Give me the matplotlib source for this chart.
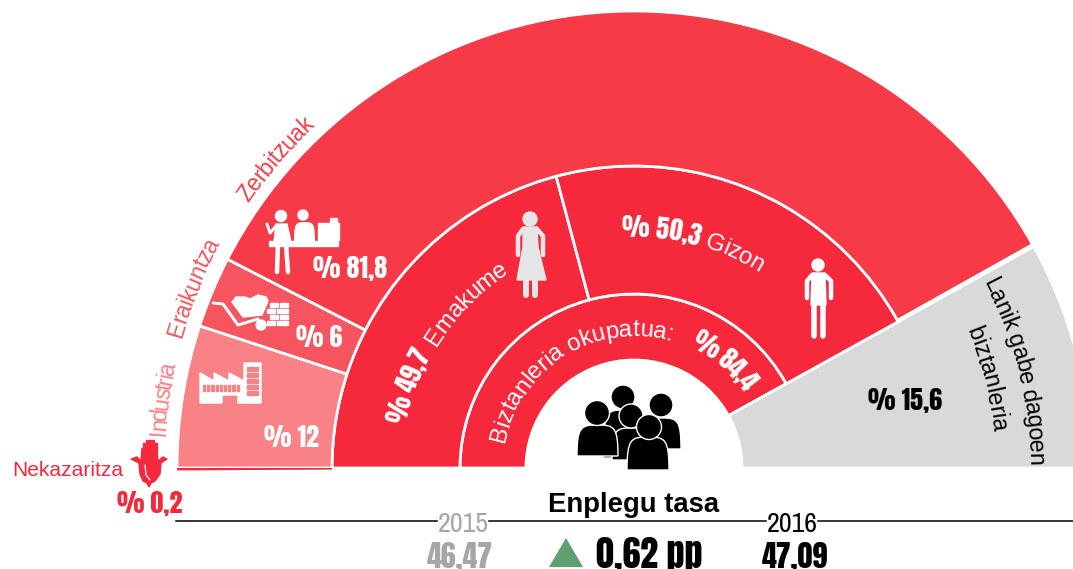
import numpy as np
import matplotlib
matplotlib.use('Agg')
import matplotlib.pyplot as plt
from matplotlib.patches import Wedge, Circle, Polygon, Rectangle, PathPatch
from matplotlib.path import Path
from matplotlib.font_manager import FontProperties, findfont, get_font
from matplotlib.ft2font import LoadFlags

# shares of the half circle
status_labels = ['Biztanleria okupatua', 'Lanik gabe dagoen biztanleria']
status_shares = [83.9, 16.1]
sex_labels = ['Emakume', 'Gizon']
sex_shares = [49.7, 50.3]
sector_labels = ['Nekazaritza', 'Industria', 'Eraikuntza', 'Zerbitzuak']
sector_shares = [0.2, 12, 6, 81.8]
sector_texts = ['% 0,2', '% 12', '% 6', '% 81,8']
years = ['2015', '2016']
rates = ['46,47', '47,09']
change = '0,62 pp'

RED = '#f5283c'
sector_colors = [RED, '#f98287', '#f6545e', '#f63a48']
GREY = '#d9d9d9'
CX, CY = 634, 468
R0, R1, R2, R3 = 108, 174, 302, 457
HEAVY = ['Anton', 'Liberation Sans']
NARROW = ['Archivo Narrow', 'Liberation Sans']
SANS = ['Liberation Sans']

fig = plt.figure(figsize=(10.73, 5.69), dpi=100)
ax = fig.add_axes([0, 0, 1, 1])
ax.set_xlim(0, 1073)
ax.set_ylim(569, 0)
ax.axis('off')


def ring(r_in, r_out, a_start, a_end, color, lw=2.0, z=1):
    # y axis points down, so the angles change sign
    ax.add_patch(Wedge((CX, CY), r_out, -a_start, -a_end, width=r_out - r_in,
                       facecolor=color, edgecolor='white' if lw else color, linewidth=lw, zorder=z))


def curved(s, r, a0, a1, px, color, family=SANS):
    # one rotated glyph at a time along the arc, a0 to a1 in degrees
    prop = FontProperties(family=family, size=px)
    font = get_font(findfont(prop))
    font.set_size(px, 72)
    adv = np.array([font.load_char(ord(c), flags=LoadFlags.NO_HINTING).linearHoriAdvance / 65536 for c in s])
    edges = np.concatenate([[0], np.cumsum(adv)])
    mids = (edges[:-1] + edges[1:]) / 2 / edges[-1]
    for c, m in zip(s, mids):
        if c == ' ':
            continue
        a = a0 + (a1 - a0) * m
        ax.text(CX + r * np.cos(np.radians(a)), CY - r * np.sin(np.radians(a)), c, color=color,
                fontsize=px * 0.72, family=family, rotation=a - 90,
                rotation_mode='anchor', ha='center', va='baseline', zorder=6)


def label(x, y, s, px, color='black', family=HEAVY, bold=False, ha='center'):
    ax.text(x, y, s, fontsize=px * 0.72, color=color, fontweight='bold' if bold else 'normal',
            family=family, ha=ha, va='baseline', zorder=6)


def stroke(xs, ys, w, color):
    ax.plot(xs, ys, color=color, lw=w * 0.72, solid_capstyle='round', solid_joinstyle='round', zorder=5)


def dome(x0, x1, top, bot, color='black', edge='white'):
    xm = (x0 + x1) / 2
    verts = [(x0, bot), (x0, top + (bot - top) * 0.05), (x0 + (xm - x0) * 0.2, top), (xm, top),
             (x1 - (x1 - xm) * 0.2, top), (x1, top + (bot - top) * 0.05), (x1, bot), (x0, bot)]
    codes = [Path.MOVETO] + [Path.CURVE4] * 6 + [Path.CLOSEPOLY]
    ax.add_patch(PathPatch(Path(verts, codes), facecolor=color, edgecolor=edge, lw=1.0, zorder=5))


# rings, from the values
span = 180 * status_shares[0] / sum(status_shares)
end = 180 - span
ring(R0, R1, 180, end, RED)
ring(R0, R3, end, 0, GREY)

a = 180
for share in sex_shares:
    b = a - span * share / 100
    ring(R1, R2, a, b, RED)
    a = b

# the smallest sector sits as a line under the base of the half circle
a = 180 + span * sector_shares[0] / 100
for i, share in enumerate(sector_shares):
    b = a - span * share / 100
    ring(R2, R3, a, b, sector_colors[i], lw=0 if i == 0 else 2.0, z=2 if i == 0 else 1)
    a = b

# curved texts
curved('Biztanleria okupatua:', 132, 169, 73.5, 24, 'white')
curved('% 84,4', 133, 65, 35, 26, 'white', family=HEAVY)
curved('% 49,7', 232, 169, 151, 26, 'white', family=HEAVY)
curved('Emakume', 232, 148.5, 122.5, 24, 'white')
curved('% 50,3', 231, 93, 74, 26, 'white', family=HEAVY)
curved('Gizon', 232, 72.3, 57.4, 24, 'white')
curved(sector_labels[3], 468, 145.5, 133, 23, sector_colors[3])
curved(sector_labels[2], 471, 164, 151.5, 23, sector_colors[2])
curved(sector_labels[1], 470, 176, 167.3, 23, sector_colors[1])
curved('Lanik gabe dagoen', 395, 28, 0.4, 23.5, 'black')
curved('biztanleria', 360, 22.5, 5.7, 23.5, 'black')

# straight numbers
label(350, 278, sector_texts[3], 26, 'white')
label(319, 347, sector_texts[2], 26, 'white')
label(292, 447, sector_texts[1], 26, 'white')
label(150, 513, sector_texts[0], 26, RED)
label(905, 410, '% 15,6', 26, 'black')
label(123, 476, sector_labels[0], 21, RED, family=SANS, ha='right')

# bottom block
ax.plot([176, 437], [521, 521], color='black', lw=1.1)
ax.plot([489, 766], [521, 521], color='black', lw=1.1)
ax.plot([818, 1073], [521, 521], color='black', lw=1.1)
label(634, 512, 'Enplegu tasa', 27.5, 'black', family=SANS, bold=True)
label(463, 532, years[0], 28, '#a6a6a6', family=NARROW)
label(792, 532, years[1], 28, 'black', family=NARROW)
label(460, 568, rates[0], 30, '#a6a6a6')
label(795, 568, rates[1], 30, 'black')
label(649, 568, change, 36, 'black')
ax.add_patch(Polygon([(549, 567), (583, 567), (566, 538)], facecolor='#5f9e6e', edgecolor='none'))

# people icon, back figures first
for hx, hy, hr, x0, x1, top, bot in [(623, 397, 12, 603, 641, 410, 458),
                                     (661, 405, 12, 643, 681, 418, 449),
                                     (631, 416, 12, 612, 650, 428, 460),
                                     (597, 413, 12.5, 577, 618, 425, 456),
                                     (649, 427, 12.5, 627, 669, 437, 470)]:
    dome(x0, x1, top, bot)
    ax.add_patch(Circle((hx, hy), hr, facecolor='black', edgecolor='white', lw=1.0, zorder=5))

# woman
WOMAN = '#e6e6e6'
ax.add_patch(Circle((530, 219), 7, color=WOMAN, zorder=5))
ax.add_patch(Polygon([(523, 227), (537, 227), (538, 247), (546, 280), (517, 280), (523, 247)], color=WOMAN, zorder=5))
stroke([523, 518, 518], [229, 236, 255], 4.5, WOMAN)
stroke([537, 543, 543], [229, 236, 255], 4.5, WOMAN)
stroke([526, 526], [280, 295], 6, WOMAN)
stroke([535, 535], [280, 295], 6, WOMAN)

# man
ax.add_patch(Circle((818, 265), 6, color='white', zorder=5))
ax.add_patch(Polygon([(812, 273), (825, 273), (826, 305), (811, 305)], color='white', zorder=5))
stroke([812, 807, 807], [275, 281, 298], 4.5, 'white')
stroke([825, 831, 831], [275, 281, 298], 4.5, 'white')
stroke([814, 814], [303, 336], 5.5, 'white')
stroke([823, 823], [303, 336], 5.5, 'white')

# workers
ax.add_patch(Rectangle((269, 241), 69, 5, color='white', zorder=5))
ax.add_patch(Circle((281, 216), 5.5, color='white', zorder=5))
ax.add_patch(Circle((303, 215), 5, color='white', zorder=5))
ax.add_patch(Polygon([(276, 224), (287, 224), (291, 242), (274, 242)], color='white', zorder=5))
stroke([267, 270, 276], [224, 233, 226], 3, 'white')
stroke([278, 277], [244, 272], 4.5, 'white')
stroke([286, 288], [244, 272], 4.5, 'white')
dome(294, 315, 222, 241, 'white', 'none')
ax.add_patch(Rectangle((318, 223), 21, 17, color='white', zorder=5))
ax.add_patch(Rectangle((330, 218), 7, 6, color='white', zorder=5))

# wheelbarrow and bricks
stroke([213, 223, 238, 258], [303, 304, 325, 319], 3, 'white')
ax.add_patch(Polygon([(232, 302), (236, 297), (245, 297), (250, 299), (258, 295), (266, 297), (268, 301),
                      (262, 315), (243, 317)], color='white', zorder=5))
ax.add_patch(Circle((261, 325), 5, color='white', zorder=5))
for y, xs in [(303, [270, 280]), (309, [267, 277, 285]), (315, [270, 280]), (321, [267, 277, 285])]:
    for x in xs:
        ax.add_patch(Rectangle((x, y), 8 if x != 285 else 3, 4, color='white', zorder=5))

# factory
ax.add_patch(Polygon([(200, 373), (214, 381), (214, 373), (229, 381), (229, 373), (244, 381), (244, 363),
                      (261, 363), (261, 403), (238, 403), (238, 395), (222, 395), (222, 403), (200, 403)],
                     color='white', zorder=5))
for y in [367, 373, 379, 385, 391]:
    ax.add_patch(Rectangle((247, y), 11, 3.5, color=sector_colors[1], zorder=6))
for x in np.arange(203, 240, 4.2):
    ax.add_patch(Rectangle((x, 385), 2.2, 5.5, color=sector_colors[1], zorder=6))

# corn
for i in range(5):
    for j in range(6):
        if j == 0 and i in (0, 4):
            continue
        ax.add_patch(Rectangle((143 + i * 3, 440 + j * 3), 2, 2, color=RED, zorder=5))
ax.add_patch(Polygon([(131, 459), (137, 457), (141, 461), (142, 448), (149, 458), (156, 450), (158, 461),
                      (163, 457), (167, 459), (161, 463), (160, 474), (155, 481), (151, 483), (149, 487),
                      (147, 483), (143, 481), (140, 474), (139, 463)], color=RED, zorder=5))
stroke([145, 146, 150], [465, 475, 480], 1.2, 'white')

fig.savefig('out.png', dpi=100)
